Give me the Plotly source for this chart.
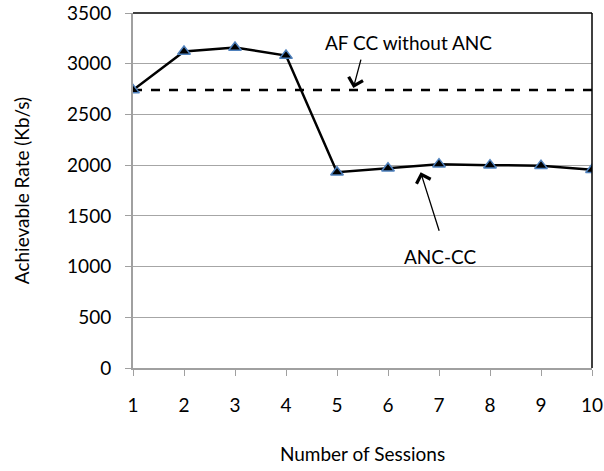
import plotly.graph_objects as go

sessions = [1, 2, 3, 4, 5, 6, 7, 8, 9, 10]
anc_cc = [2740, 3120, 3160, 3080, 1930, 1970, 2010, 2000, 1995, 1955]
af_cc = [2740] * 10
y_ticks = [0, 500, 1000, 1500, 2000, 2500, 3000, 3500]

font = "Lato, 'Open Sans', sans-serif"
fs = 19

fig = go.Figure()
fig.add_trace(go.Scatter(x=sessions, y=af_cc, mode="lines",
                         line=dict(color="black", width=2.5, dash="dash"),
                         showlegend=False, hoverinfo="skip"))
fig.add_trace(go.Scatter(x=sessions, y=anc_cc, mode="lines+markers",
                         line=dict(color="black", width=2.5),
                         marker=dict(symbol="triangle-up", size=11, color="black",
                                     line=dict(color="#4f81bd", width=1.5)),
                         showlegend=False))

fig.add_annotation(x=6.40, y=3205, text="AF CC without ANC", showarrow=False,
                   font=dict(family=font, size=fs, color="black"))
fig.add_annotation(x=5.32, y=2760, ax=8, ay=-30, text="", showarrow=True,
                   arrowhead=4, arrowsize=2.2, arrowwidth=1.3, arrowcolor="black")
fig.add_annotation(x=7.03, y=1095, text="ANC-CC", showarrow=False,
                   font=dict(family=font, size=fs, color="black"))
fig.add_annotation(x=6.64, y=1930, ax=19, ay=60, text="", showarrow=True,
                   arrowhead=4, arrowsize=2.2, arrowwidth=1.3, arrowcolor="black")

fig.update_layout(
    width=604, height=471,
    margin=dict(l=133, r=12, t=13, b=103, autoexpand=False),
    plot_bgcolor="white", paper_bgcolor="white",
    font=dict(family=font, size=fs, color="black"),
    xaxis=dict(range=[1, 10], tickvals=sessions, ticks="outside", ticklen=6,
               tickcolor="#a0a0a0", showgrid=False, showline=True,
               linecolor="#a0a0a0", linewidth=2, mirror=False, zeroline=False,
               ticklabelstandoff=13, automargin=False,
               title=dict(text="Number of Sessions", standoff=33,
                          font=dict(family=font, size=fs))),
    yaxis=dict(range=[0, 3500], tickvals=y_ticks, ticks="outside", ticklen=6,
               tickcolor="#a0a0a0", showgrid=True, gridcolor="#a6a6a6", gridwidth=1,
               showline=True, linecolor="#a0a0a0", linewidth=2, zeroline=False,
               ticklabelstandoff=10, automargin=False,
               title=dict(text="Achievable Rate (Kb/s)", standoff=32,
                          font=dict(family=font, size=fs))),
)

# black top and right borders
fig.add_shape(type="line", xref="paper", yref="paper", x0=0, x1=1, y0=1, y1=1,
              line=dict(color="black", width=1.5))
fig.add_shape(type="line", xref="paper", yref="paper", x0=1, x1=1, y0=0, y1=1,
              line=dict(color="black", width=1.5))

fig.write_html("out.html")
